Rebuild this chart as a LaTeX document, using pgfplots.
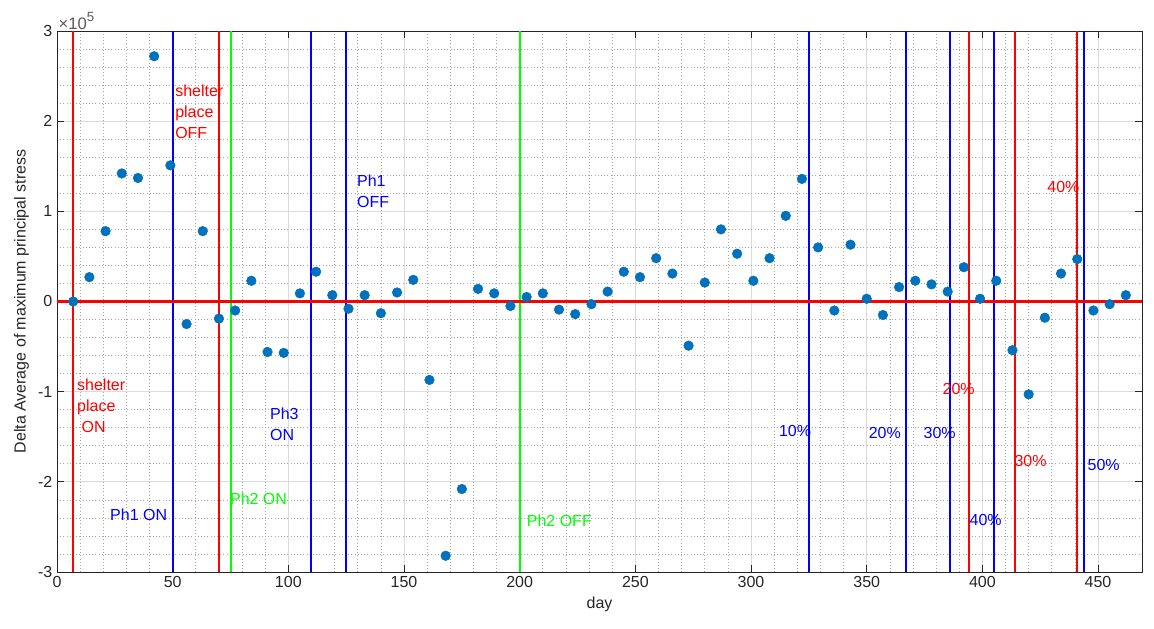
\documentclass[border=0pt]{standalone}
\usepackage{fontspec}
\setmainfont{Liberation Sans}
\usepackage{pgfplots}
\usepackage{pgfplotstable}
\pgfplotsset{compat=1.18}

\definecolor{mblue}{rgb}{0,0.447,0.741}
\definecolor{axgray}{rgb}{0.15,0.15,0.15}
\definecolor{lred}{rgb}{1,0,0}
\definecolor{lblue}{rgb}{0,0,1}
\definecolor{lgreen}{rgb}{0,1,0}

\tikzset{annot/.style={anchor=west, align=left, inner sep=0pt,
    font=\fontsize{12}{15.75}\selectfont}}

% delta average of maximum principal stress per day
\pgfplotstableread{
day val
7 0
14 27000
21 78000
28 142000
35 137000
42 272000
49 151000
56 -25000
63 78000
70 -19000
77 -10000
84 23000
91 -56000
98 -57000
105 9000
112 33000
119 7000
126 -8000
133 7000
140 -13000
147 10000
154 24000
161 -87000
168 -282000
175 -208000
182 14000
189 9000
196 -5000
203 5000
210 9000
217 -9000
224 -14000
231 -3000
238 11000
245 33000
252 27000
259 48000
266 31000
273 -49000
280 21000
287 80000
294 53000
301 23000
308 48000
315 95000
322 136000
329 60000
336 -10000
343 63000
350 3000
357 -15000
364 16000
371 23000
378 19000
385 11000
392 38000
399 3000
406 23000
413 -54000
420 -103000
427 -18000
434 31000
441 47000
448 -10000
455 -3000
462 7000
}\stress

\begin{document}
\begin{tikzpicture}
\begin{axis}[
  scale only axis, width=813.75pt, height=405.75pt,
  xmin=0, xmax=469, ymin=-300000, ymax=300000,
  xtick={0,50,...,450}, ytick={-300000,-200000,...,300000},
  minor x tick num=4, minor y tick num=4,
  grid=both,
  major grid style={color=black!14, line width=0.5pt},
  minor grid style={color=black!35, dotted, line width=0.5pt},
  tick align=inside, major tick length=5pt, minor tick length=0pt,
  tick style={axgray, line width=0.6pt},
  axis line style={axgray, line width=0.6pt},
  ticklabel style={font=\fontsize{12}{14}\selectfont, text=axgray},
  /pgf/number format/assume math mode=true,
  scaled y ticks=base 10:-5,
  ytick scale label code/.code={×10\raisebox{0.45em}{\fontsize{10}{12}\selectfont 5}},
  every y tick scale label/.style={at={(rel axis cs:0,1)}, anchor=south west,
    inner sep=1pt, font=\fontsize{12.5}{14}\selectfont, text=black!65},
  xlabel={day}, ylabel={Delta Average of maximum principal stress},
  label style={font=\fontsize{12}{14}\selectfont, text=axgray},
]
\addplot[only marks, mark=*, mark size=3.6pt, mark options={fill=mblue, draw=mblue}]
  table[x=day, y=val] {\stress};

% event lines
\addplot[lred, line width=1.5pt] coordinates {(7,-300000) (7,300000)};
\addplot[lblue, line width=1.5pt] coordinates {(50,-300000) (50,300000)};
\addplot[lred, line width=1.5pt] coordinates {(70,-300000) (70,300000)};
\addplot[lgreen, line width=1.5pt] coordinates {(75,-300000) (75,300000)};
\addplot[lblue, line width=1.5pt] coordinates {(110,-300000) (110,300000)};
\addplot[lblue, line width=1.5pt] coordinates {(125,-300000) (125,300000)};
\addplot[lgreen, line width=1.5pt] coordinates {(200,-300000) (200,300000)};
\addplot[lblue, line width=1.5pt] coordinates {(325,-300000) (325,300000)};
\addplot[lblue, line width=1.5pt] coordinates {(367,-300000) (367,300000)};
\addplot[lblue, line width=1.5pt] coordinates {(386,-300000) (386,300000)};
\addplot[lred, line width=1.5pt] coordinates {(394,-300000) (394,300000)};
\addplot[lblue, line width=1.5pt] coordinates {(405,-300000) (405,300000)};
\addplot[lred, line width=1.5pt] coordinates {(414,-300000) (414,300000)};
\addplot[lred, line width=1.5pt] coordinates {(441,-300000) (441,300000)};
\addplot[lblue, line width=1.5pt] coordinates {(444,-300000) (444,300000)};
\addplot[lred, line width=2.2pt] coordinates {(0,0) (469,0)};

\node[annot, text=lred] at (axis cs:51,210000) {shelter\\place\\OFF};
\node[annot, text=lblue] at (axis cs:129.6,122000) {Ph1\\OFF};
\node[annot, text=lred] at (axis cs:8.6,-116000) {shelter\\place\\\hspace*{0.28em}ON};
\node[annot, text=lblue] at (axis cs:92,-136000) {Ph3\\ON};
\node[annot, text=lblue] at (axis cs:22.9,-237000) {Ph1 ON};
\node[annot, text=lgreen] at (axis cs:74.7,-219000) {Ph2 ON};
\node[annot, text=lgreen] at (axis cs:203,-243000) {Ph2 OFF};
\node[annot, text=lblue] at (axis cs:312,-144000) {10\%};
\node[annot, text=lblue] at (axis cs:350.8,-146000) {20\%};
\node[annot, text=lblue] at (axis cs:374.5,-146000) {30\%};
\node[annot, text=lred] at (axis cs:382.7,-97000) {20\%};
\node[annot, text=lblue] at (axis cs:394.4,-242000) {40\%};
\node[annot, text=lred] at (axis cs:413.8,-177000) {30\%};
\node[annot, text=lblue] at (axis cs:445.4,-181000) {50\%};
\node[annot, text=lred] at (axis cs:428,127000) {40\%};
\end{axis}
\pgfresetboundingbox
\path ([shift={(-42.75pt,-42.75pt)}]current axis.south west)
  rectangle ([shift={(9pt,23.25pt)}]current axis.north east);
\end{tikzpicture}
\end{document}
